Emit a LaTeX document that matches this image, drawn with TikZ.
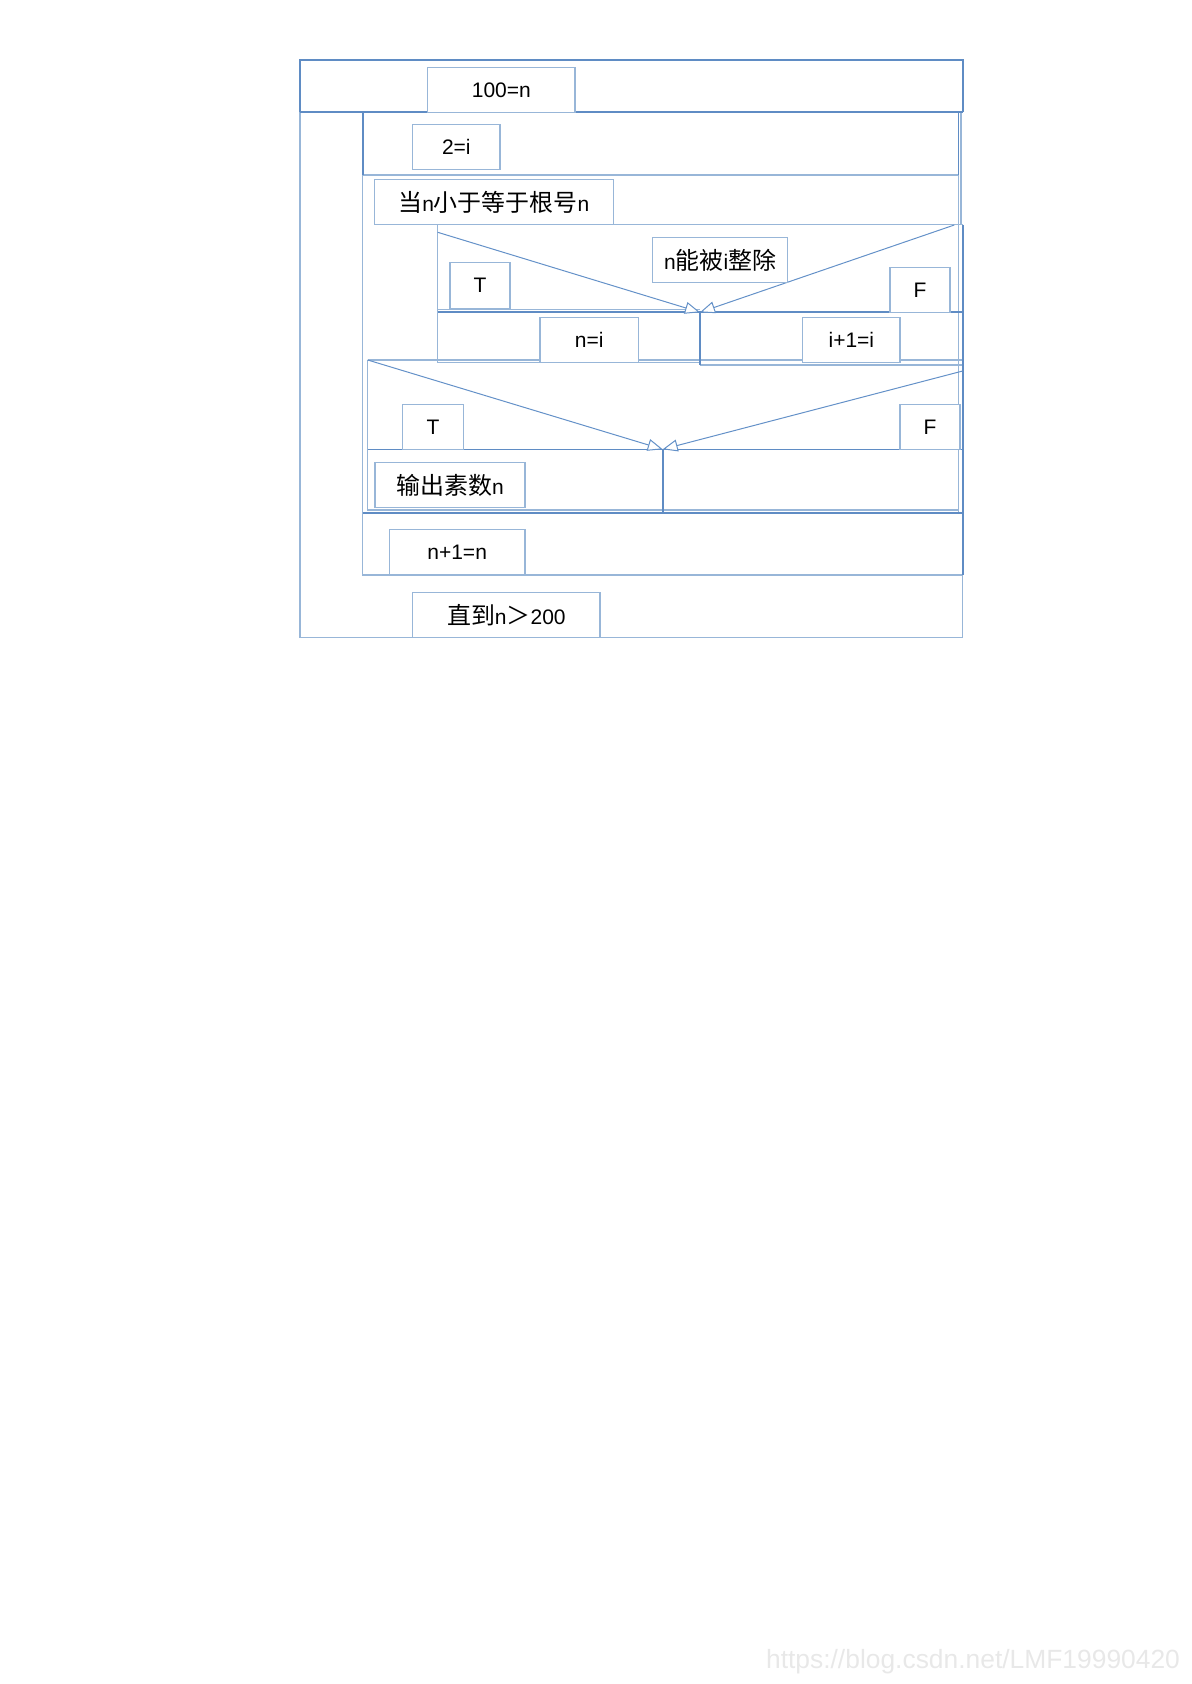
\documentclass[tikz,border=0pt]{standalone}
\usepackage{fontspec}
\setmainfont{Liberation Sans}
\newfontfamily\cjk[Scale=1.14]{Noto Sans CJK SC}
\usetikzlibrary{arrows.meta}
\definecolor{dk}{RGB}{95,140,196}
\definecolor{lt}{RGB}{152,182,216}
\definecolor{dg}{RGB}{100,145,200}
\newcommand\zh[1]{{\cjk #1}}
\newcommand\tbox[6]{\node[tb, minimum width={(#3-#1)*0.5pt}, minimum height={(#4-#2)*0.5pt}] (#5) at ({(#1+#3)/2},{(#2+#4)/2}) {#6};}
\begin{document}
\begin{tikzpicture}[x=0.5pt,y=-0.5pt,
  tb/.style={draw=lt, line width=0.65pt, fill=white, inner sep=0pt, font=\fontsize{10.5}{12}\selectfont},
  dline/.style={draw=dk, line width=0.8pt},
  lline/.style={draw=lt, line width=0.65pt},
  diag/.style={draw=dg, line width=0.5pt, -{Triangle[fill=white,length=7.5pt,width=6pt]}},
]
\useasboundingbox (0,0) rectangle (1191,1684);
% light frame lines
\draw[lline] (300,112.3) -- (300,637.7) -- (962.7,637.7) -- (962.7,575);
\draw[lline] (961,112.3) -- (961,225);
\draw[lline] (958.3,175) -- (958.3,512.7);
\draw[lline] (362.7,175) -- (958.3,175);
\draw[lline] (613,224.7) -- (962.7,224.7);
\draw[lline] (437.7,224.7) -- (437.7,362.7) -- (700,362.7);
\draw[lline] (437.7,309.3) -- (700,309.3);
\draw[lline] (700,365) -- (962.7,365);
\draw[lline] (367.7,360) -- (962.7,360);
\draw[lline] (367.7,360) -- (367.7,510) -- (958.3,510);
\draw[lline] (362.7,175) -- (362.7,575) -- (962.7,575);
% dark frame lines
\draw[dline] (300,112.3) -- (300,60) -- (962.7,60) -- (962.7,112.3);
\draw[dline] (300,112.3) -- (962.7,112.3);
\draw[dline] (362.7,175) -- (362.7,112.3);
\draw[dline] (958.3,112.3) -- (958.3,175);
\draw[dline] (437.7,224.7) -- (613,224.7);
\draw[dline] (437.7,312.3) -- (962.7,312.3);
\draw[dline] (700,312.3) -- (700,365);
\draw[dline] (367.7,449.3) -- (962.7,449.3);
\draw[dline] (662.7,449.3) -- (662.7,512.7);
\draw[dline] (362.7,512.7) -- (962.7,512.7);
\draw[dline] (962.7,225) -- (962.7,575);
% diagonals
\coordinate (a1) at (437.7,232.3);
\coordinate (a2) at (954.3,225);
\coordinate (m1) at (700,312.3);
\coordinate (b1) at (367.7,360);
\coordinate (b2) at (962.7,371);
\coordinate (m2) at (662.7,449.3);
\draw[diag] (a1) -- (m1);
\draw[diag] (a2) -- (m1);
\draw[diag] (b1) -- (m2);
\draw[diag] (b2) -- (m2);
% text boxes
\tbox{427.7}{67.7}{575}{112.3}{n100}{100=n}
\tbox{412.7}{124.7}{500}{169.7}{i2}{2=i}
\tbox{374.3}{179.3}{613.3}{224.7}{wh}{\zh{当}n\zh{小于等于根号}n}
\tbox{652.7}{237.7}{787.7}{282.7}{cond1}{n\zh{能被}i\zh{整除}}
\tbox{450}{262.7}{510}{308.3}{t1}{T}
\tbox{890}{267.7}{950}{312.7}{f1}{F}
\tbox{540}{317.7}{638.3}{362.7}{ni}{n=i}
\tbox{802.7}{317.7}{900}{362.7}{ii}{i+1=i}
\tbox{402.7}{404.3}{463.3}{449.3}{t2}{T}
\tbox{900}{404.3}{960}{449.3}{f2}{F}
\tbox{375}{462.7}{525}{507.7}{out}{\zh{输出素数}n}
\tbox{389.3}{529.3}{525}{575}{inc}{n+1=n}
\tbox{412.7}{592.7}{600}{637.7}{until}{\zh{直到}n\zh{＞}200}
% watermark
\node[text=black!9, inner sep=0pt, font=\fontsize{13.2}{16}\selectfont] (wm) at (973,1662) {https://blog.csdn.net/LMF19990420};
\end{tikzpicture}
\end{document}
